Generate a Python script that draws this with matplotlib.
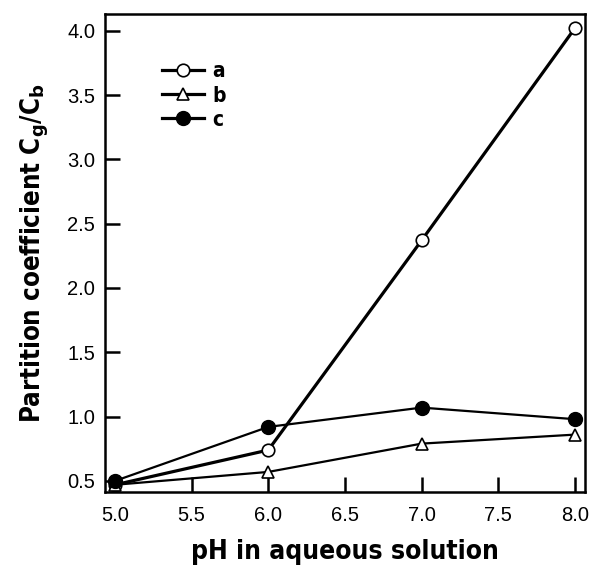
import matplotlib
matplotlib.use("Agg")
import matplotlib.pyplot as plt

ph = [5.0, 6.0, 7.0, 8.0]
series_a = [0.47, 0.74, 2.37, 4.02]
series_b = [0.47, 0.57, 0.79, 0.86]
series_c = [0.50, 0.92, 1.07, 0.98]
xticks = [5.0, 5.5, 6.0, 6.5, 7.0, 7.5, 8.0]
yticks = [0.5, 1.0, 1.5, 2.0, 2.5, 3.0, 3.5, 4.0]

plt.rcParams["font.family"] = ["Liberation Sans", "DejaVu Sans"]
label_kw = dict(family="DejaVu Sans", fontweight="bold", fontstretch="condensed")

fig = plt.figure(figsize=(5.95, 5.67), dpi=100)
ax = fig.add_axes([0.1765, 0.1323, 0.8065, 0.843])

ax.plot(ph, series_a, color="black", lw=2.3, marker="o", ms=9,
        mfc="white", mec="black", mew=1.2, label="a", zorder=3)
ax.plot(ph, series_b, color="black", lw=1.6, marker="^", ms=8,
        mfc="white", mec="black", mew=1.2, label="b", zorder=3)
ax.plot(ph, series_c, color="black", lw=1.6, marker="o", ms=10,
        mfc="black", mec="black", label="c", zorder=3)

ax.set_xlim(4.935, 8.065)
ax.set_ylim(0.414, 4.13)
ax.set_xticks(xticks)
ax.set_yticks(yticks)
ax.set_xticklabels([f"{v:.1f}" for v in xticks])
ax.set_yticklabels([f"{v:.1f}" for v in yticks])
ax.tick_params(direction="in", length=11, width=1.8, labelsize=14.5, pad=10,
               top=False, right=False)
ax.tick_params(axis="y", pad=7)
for s in ax.spines.values():
    s.set_linewidth(1.8)

ax.set_xlabel("pH in aqueous solution", fontsize=19, labelpad=10, **label_kw)
ax.set_ylabel(r"Partition coefficient C$_\mathbf{g}$/C$_\mathbf{b}$", fontsize=18.5,
              labelpad=12, **label_kw)

leg = ax.legend(loc="upper left", bbox_to_anchor=(0.08, 0.94), frameon=False,
                handlelength=2.0, handletextpad=0.4, labelspacing=0.2,
                prop={"weight": "bold", "size": 15, "family": "DejaVu Sans",
                      "stretch": "condensed"})
for line in leg.get_lines():
    line.set_linewidth(2.3)

fig.savefig("out.png", dpi=100)
